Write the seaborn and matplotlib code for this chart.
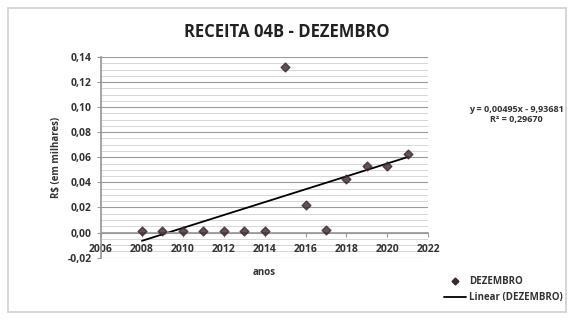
import numpy as np
import pandas as pd
import seaborn as sns
import matplotlib.pyplot as plt
from matplotlib.ticker import MultipleLocator, FuncFormatter
from matplotlib.lines import Line2D
from matplotlib.patches import Rectangle

# dados
anos = [2008, 2009, 2010, 2011, 2012, 2013, 2014, 2015, 2016, 2017, 2018, 2019, 2020, 2021]
dezembro = [0.001, 0.001, 0.001, 0.001, 0.001, 0.001, 0.001, 0.132, 0.022, 0.002, 0.043, 0.053, 0.053, 0.063]
eq_text = "y = 0,00495x - 9,93681\nR² = 0,29670"

df = pd.DataFrame({'anos': anos, 'DEZEMBRO': dezembro})

sns.set_theme(style='white')
plt.rcParams['font.family'] = ['Open Sans', 'DejaVu Sans']

fig = plt.figure(figsize=(5.74, 3.22), dpi=100)
fig.patches.append(Rectangle((8 / 574, 10 / 322), 558 / 574, 304 / 322, transform=fig.transFigure,
                             fill=False, edgecolor='#d0d0d0', lw=1.2))
ax = fig.add_axes([0.176, 0.2, 0.57, 0.623])

mk = '#3a2830'
sns.regplot(data=df, x='anos', y='DEZEMBRO', ci=None, ax=ax,
            marker='D', scatter_kws={'s': 20, 'color': mk, 'zorder': 3},
            line_kws={'color': 'black', 'lw': 1.3, 'zorder': 2})

ax.set_xlim(2006, 2022)
ax.set_ylim(-0.02, 0.14)
ax.xaxis.set_major_locator(MultipleLocator(2))
ax.yaxis.set_major_locator(MultipleLocator(0.02))
ax.yaxis.set_major_formatter(FuncFormatter(lambda v, p: f"{v:.2f}".replace('.', ',').replace('-0,00', '0,00')))

# linhas de grade horizontais (maiores e menores)
for v in np.arange(-0.02, 0.1401, 0.005):
    major = abs(v / 0.02 - round(v / 0.02)) < 1e-6
    ax.axhline(v, color='#9a9a9a' if major else '#d0d0d0', lw=0.8 if major else 0.6, zorder=0.5)

for s in ['top', 'right']:
    ax.spines[s].set_visible(False)
ax.spines['left'].set_color('#999999')
ax.spines['bottom'].set_color('#999999')
ax.spines['bottom'].set_position(('data', 0))
ax.tick_params(axis='x', which='major', bottom=True, length=3, width=0.8, color='#999999', labelsize=7.5, pad=5)
ax.tick_params(axis='y', which='major', left=True, length=3, width=0.8, color='#999999', labelsize=7.5)
for t in ax.get_xticklabels() + ax.get_yticklabels():
    t.set_fontweight('bold')
    t.set_color('#333333')

ax.set_xlabel('')
ax.set_ylabel('')
fig.text(0.46, 0.155, 'anos', ha='center', va='center', fontsize=7, fontweight='bold', color='#333333')
fig.text(0.098, 0.51, 'R$ (em milhares)', ha='center', va='center', rotation=90,
         fontsize=7, fontweight='bold', color='#333333')
fig.text(0.5, 0.9, 'RECEITA 04B - DEZEMBRO', ha='center', va='center', fontsize=12,
         fontweight='bold', color='#222222')
fig.text(0.9, 0.645, eq_text, ha='center', va='center', fontsize=6.5, fontweight='bold',
         color='#333333', linespacing=1.15)

handles = [Line2D([], [], marker='D', ls='none', color=mk, markersize=3.5),
           Line2D([], [], color='black', lw=1.3)]
fig.legend(handles, ['DEZEMBRO', 'Linear (DEZEMBRO)'], loc='center right',
           bbox_to_anchor=(0.995, 0.1), frameon=False,
           prop={'weight': 'bold', 'size': 7}, handlelength=2.2, handletextpad=0.3,
           labelspacing=0.5, labelcolor='#333333')

fig.savefig('out.png', dpi=100, facecolor='white')
